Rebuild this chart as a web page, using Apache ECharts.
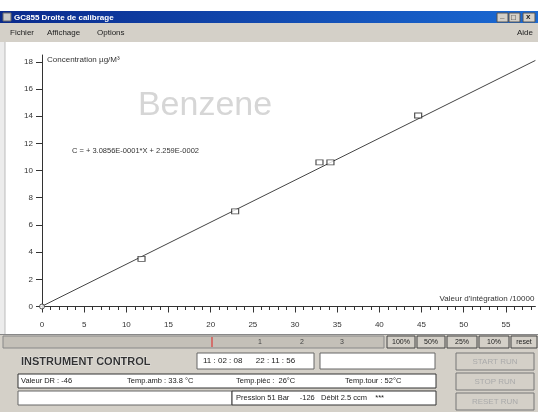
<!DOCTYPE html>
<html>
<head>
<meta charset="utf-8">
<script src="https://cdn.jsdelivr.net/npm/echarts@6/dist/echarts.min.js"></script>
<style>
  html, body { margin: 0; padding: 0; background: #fff; }
  #chart { width: 538px; height: 412px; }
</style>
</head>
<body>
<div id="chart"></div>
<script>
// calibration data
const xLabels = [0, 5, 10, 15, 20, 25, 30, 35, 40, 45, 50, 55];
const xMinor = Array.from({ length: 59 }, (_, i) => i);
const yLabels = [0, 2, 4, 6, 8, 10, 12, 14, 16, 18];
const fitX = [0, 58.5];
const fitY = [0.02, 18.1];
const calibX = [11.8, 22.9, 32.9, 34.2, 44.6];
const calibY = [3.5, 7.0, 10.6, 10.6, 14.05];
const originPt = [[0, 0]];

const FONT = "Liberation Sans";
const grey = "#d4d0c8";

const chart = echarts.init(document.getElementById("chart"), null, { renderer: "canvas" });

function txt(text, x, y, opts) {
  return {
    type: "text",
    z: 5,
    style: Object.assign({
      text: text, x: x, y: y,
      fill: "#222",
      font: "8px " + FONT,
      align: "left",
      verticalAlign: "middle"
    }, opts || {})
  };
}
function box(x, y, w, h, fill, stroke, z) {
  return {
    type: "rect",
    z: z == null ? -5 : z,
    shape: { x: x, y: y, width: w, height: h },
    style: { fill: fill, stroke: stroke || null, lineWidth: 1 }
  };
}

const chrome = [
  // title bar
  {
    type: "rect", z: -5,
    shape: { x: 0, y: 11, width: 538, height: 12 },
    style: {
      fill: new echarts.graphic.LinearGradient(0, 0, 1, 0, [
        { offset: 0, color: "#0a2a8c" },
        { offset: 1, color: "#1a6ad4" }
      ])
    }
  },
  box(3, 13, 8, 8, "#c8c8c8", "#666", 1),
  txt("GC855 Droite de calibrage", 14, 17.5, { fill: "#fff", font: "bold 8px " + FONT }),
  box(497, 13, 11, 9, grey, "#555", 1),
  box(509, 13, 11, 9, grey, "#555", 1),
  box(523, 13, 12, 9, grey, "#555", 1),
  txt("_", 500, 16, { font: "bold 8px " + FONT }),
  txt("□", 511, 17.5, { font: "bold 8px " + FONT }),
  txt("x", 526, 17, { font: "bold 8px " + FONT }),
  // menu
  box(0, 23, 538, 19, grey),
  txt("Fichier", 10, 33),
  txt("Affichage", 47, 33),
  txt("Options", 97, 33),
  txt("Aide", 533, 33, { align: "right" }),
  // plot frame
  box(0, 42, 5, 292, "#ececec"),
  { type: "line", z: 1, shape: { x1: 5, y1: 42, x2: 5, y2: 334 }, style: { stroke: "#bbb", lineWidth: 1 } },
  // watermark + fit equation
  txt("Benzene", 205, 106, { font: "34px " + FONT, fill: "#d6d6d6", align: "center" }),
  txt("C = + 3.0856E-0001*X + 2.259E-0002", 72, 151, { font: "7.5px " + FONT, fill: "#333" }),
  // control panel
  box(0, 334, 538, 78, grey),
  { type: "line", z: 1, shape: { x1: 0, y1: 334.5, x2: 538, y2: 334.5 }, style: { stroke: "#888", lineWidth: 1 } },
  box(3, 336, 381, 12, "#c4c0b8", "#888"),
  { type: "line", z: 2, shape: { x1: 212, y1: 337, x2: 212, y2: 347 }, style: { stroke: "#e02020", lineWidth: 1 } },
  txt("1", 258, 342, { font: "7px " + FONT, fill: "#444" }),
  txt("2", 300, 342, { font: "7px " + FONT, fill: "#444" }),
  txt("3", 340, 342, { font: "7px " + FONT, fill: "#444" }),
  box(387, 336, 28, 12, grey, "#444"),
  box(417, 336, 28, 12, grey, "#444"),
  box(447, 336, 30, 12, grey, "#444"),
  box(479, 336, 30, 12, grey, "#444"),
  box(511, 336, 26, 12, grey, "#444"),
  txt("100%", 401, 342.5, { align: "center", font: "7px " + FONT }),
  txt("50%", 431, 342.5, { align: "center", font: "7px " + FONT }),
  txt("25%", 462, 342.5, { align: "center", font: "7px " + FONT }),
  txt("10%", 494, 342.5, { align: "center", font: "7px " + FONT }),
  txt("reset", 524, 342.5, { align: "center", font: "7px " + FONT }),
  txt("INSTRUMENT CONTROL", 21, 362, { font: "bold 11px " + FONT, fill: "#333", stroke: "#fff", lineWidth: 0.5 }),
  box(197, 353, 117, 16, "#fff", "#666"),
  txt("11 : 02 : 08      22 : 11 : 56", 203, 361, { font: "8px " + FONT }),
  box(320, 353, 115, 16, "#fff", "#666"),
  box(18, 374, 418, 14, "#fff", "#333"),
  txt("Valeur DR : -46", 21, 381, { font: "7.5px " + FONT }),
  txt("Temp.amb : 33.8 °C", 127, 381, { font: "7.5px " + FONT }),
  txt("Temp.pièc :  26°C", 236, 381, { font: "7.5px " + FONT }),
  txt("Temp.tour : 52°C", 345, 381, { font: "7.5px " + FONT }),
  box(18, 391, 214, 14, "#fff", "#666"),
  box(232, 391, 204, 14, "#fff", "#333"),
  txt("Pression 51 Bar     -126   Débit 2.5 ccm    ***", 236, 398, { font: "7.5px " + FONT }),
  box(456, 353, 78, 17, grey, "#777"),
  box(456, 373, 78, 17, grey, "#777"),
  box(456, 393, 78, 17, grey, "#777"),
  txt("START RUN", 495, 362, { align: "center", fill: "#aaa", font: "8px " + FONT }),
  txt("STOP RUN", 495, 382, { align: "center", fill: "#aaa", font: "8px " + FONT }),
  txt("RESET RUN", 495, 402, { align: "center", fill: "#aaa", font: "8px " + FONT })
];

const option = {
  backgroundColor: "#fff",
  animation: false,
  textStyle: { fontFamily: FONT },
  grid: { left: 42, right: 2.6, top: 55, bottom: 105.5, containLabel: false },
  xAxis: [
    {
      type: "value",
      min: 0,
      max: 58.5,
      name: "Valeur d'intégration /10000",
      nameLocation: "end",
      nameGap: -1,
      nameTextStyle: { fontSize: 8, color: "#333", align: "right", verticalAlign: "bottom", padding: [0, 0, 4, 0] },
      splitLine: { show: false },
      axisLine: { lineStyle: { color: "#333", width: 1 } },
      axisTick: { customValues: xLabels, length: 6, lineStyle: { color: "#333" } },
      axisLabel: { customValues: xLabels, fontSize: 8, color: "#333", margin: 14 }
    },
    {
      type: "value",
      min: 0,
      max: 58.5,
      position: "bottom",
      splitLine: { show: false },
      axisLine: { show: false },
      axisTick: { customValues: xMinor, length: 3.5, lineStyle: { color: "#333" } },
      axisLabel: { show: false }
    }
  ],
  yAxis: {
    type: "value",
    min: 0,
    max: 18.5,
    name: "Concentration µg/M³",
    nameLocation: "end",
    nameGap: -1,
    nameTextStyle: { fontSize: 8, color: "#333", align: "left", verticalAlign: "top", padding: [0, 0, 0, 5] },
    splitLine: { show: false },
    axisLine: { show: true, lineStyle: { color: "#333", width: 1 } },
    axisTick: { show: true, customValues: yLabels, length: 6, lineStyle: { color: "#333" } },
    axisLabel: { customValues: yLabels, fontSize: 8, color: "#333", margin: 9 }
  },
  graphic: chrome,
  series: [
    {
      type: "line",
      data: fitX.map((x, i) => [x, fitY[i]]),
      showSymbol: false,
      lineStyle: { color: "#444", width: 1 },
      z: 3
    },
    {
      type: "scatter",
      data: originPt,
      symbol: "circle",
      symbolSize: 5,
      itemStyle: { color: "#fff", borderColor: "#333", borderWidth: 1 },
      z: 4
    },
    {
      type: "scatter",
      data: calibX.map((x, i) => [x, calibY[i]]),
      symbol: "rect",
      symbolSize: [7, 5],
      itemStyle: { color: "#fff", borderColor: "#222", borderWidth: 1 },
      z: 4
    }
  ]
};

chart.setOption(option);
</script>
</body>
</html>
